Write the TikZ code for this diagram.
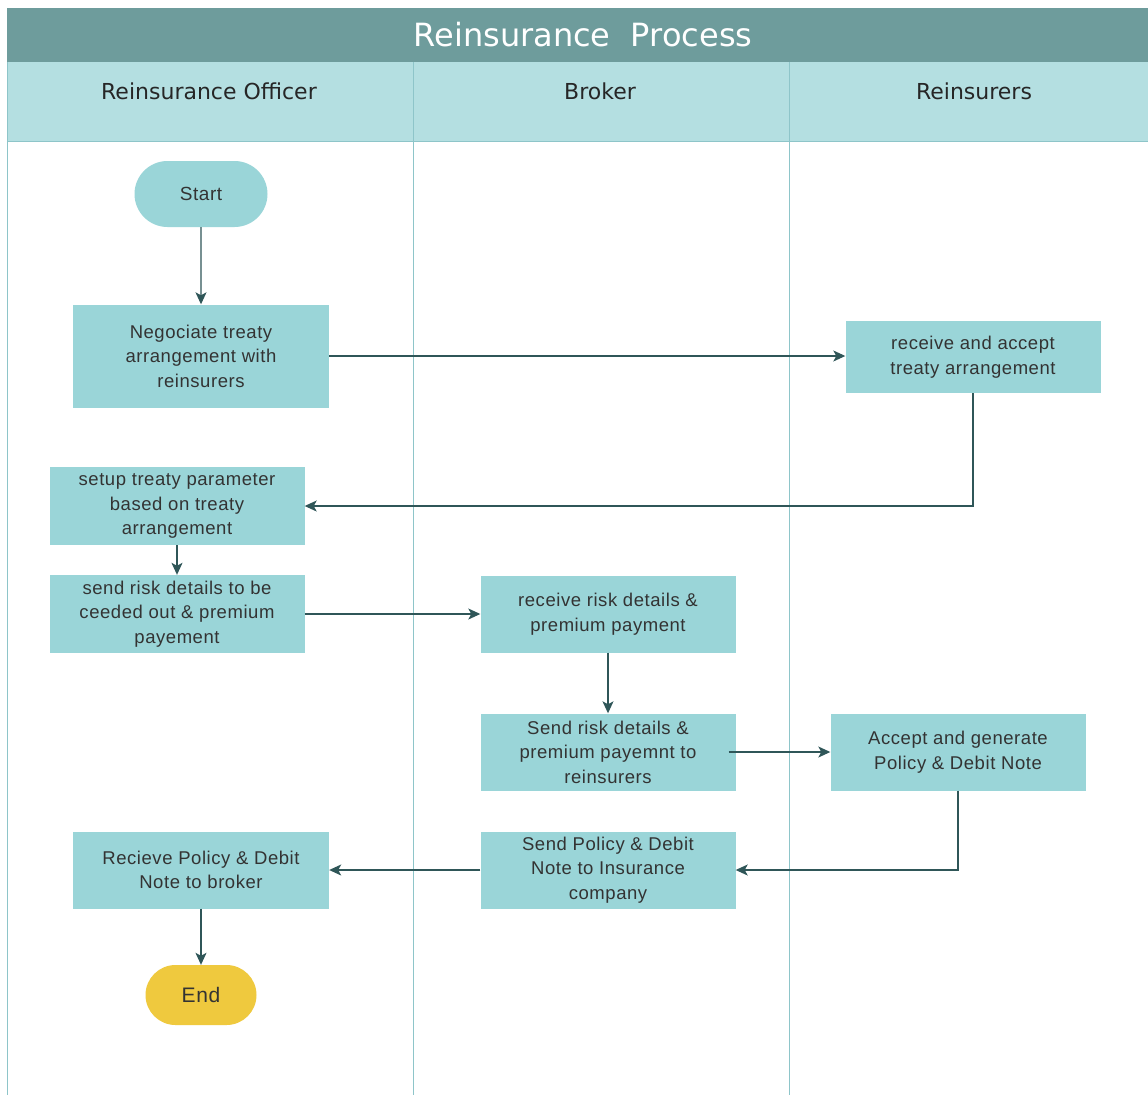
\documentclass[tikz,border=0pt]{standalone}
\usepackage{fontspec}
\setmainfont{Liberation Sans}[LetterSpace=3]
\newfontfamily\headfont{DejaVu Sans}
\usetikzlibrary{arrows.meta,shapes.misc}
\definecolor{titlebar}{HTML}{6E9C9C}
\definecolor{headrow}{HTML}{B4DFE1}
\definecolor{laneline}{HTML}{8EC5C9}
\definecolor{boxfill}{HTML}{9AD5D8}
\definecolor{endfill}{HTML}{EFC93E}
\definecolor{flow}{HTML}{2F5658}
\definecolor{txt}{HTML}{333333}
\tikzset{
  procbox/.style={draw=none, fill=boxfill, minimum width=256pt, inner sep=0pt,
    align=center, text=txt, font=\fontsize{18.5}{24.5}\selectfont},
  terminal/.style={rounded rectangle, draw=none, inner sep=0pt,
    text=txt, font=\fontsize{19}{24}\selectfont},
  flowline/.style={draw=flow, line width=1.2pt, -{Stealth[length=12pt,width=11pt,inset=3pt]}},
  lanehead/.style={text=black!85, font=\headfont\fontsize{22}{26}\selectfont},
}
\begin{document}
\begin{tikzpicture}[x=1pt,y=-1pt]
\useasboundingbox (0,0) rectangle (1148,1095);
\fill[white] (0,0) rectangle (1148,1095);
% title band and lane header row
\fill[titlebar] (7,8) rectangle (1148,62);
\fill[headrow] (7,62) rectangle (1148,141);
\node[text=white, font=\headfont\fontsize{32}{36}\selectfont] (title) at (583,35) {Reinsurance\ \ Process};
\node[lanehead] (h1) at (209,91) {Reinsurance Officer};
\node[lanehead] (h2) at (600,91) {Broker};
\node[lanehead] (h3) at (974,91) {Reinsurers};
% lane separators
\draw[laneline, line width=1pt] (7,141) -- (1148,141);
\draw[laneline, line width=1pt] (7,62) -- (7,1095);
\draw[laneline, line width=1pt] (413,62) -- (413,1095);
\draw[laneline, line width=1pt] (789,62) -- (789,1095);

% process steps
\node[terminal, fill=boxfill, minimum width=133pt, minimum height=66pt] (start) at (201,194) {Start};
\node[procbox, minimum height=103pt] (neg) at (201,356) {Negociate treaty\\arrangement with\\reinsurers};
\node[procbox, minimum width=255pt, minimum height=72pt] (racc) at (973,357) {receive and accept\\treaty arrangement};
\node[procbox, minimum width=255pt, minimum height=78pt] (setup) at (177,506) {setup treaty parameter\\based on treaty\\arrangement};
\node[procbox, minimum width=255pt, minimum height=78pt] (sendrisk) at (177,614) {send risk details to be\\ceeded out \& premium\\payement};
\node[procbox, minimum width=255pt, minimum height=77pt] (recrisk) at (608,614) {receive risk details \&\\premium payment};
\node[procbox, minimum width=255pt, minimum height=77pt] (fwdrisk) at (608,752) {Send risk details \&\\premium payemnt to\\reinsurers};
\node[procbox, minimum width=255pt, minimum height=77pt] (accept) at (958,752) {Accept and generate\\Policy \& Debit Note};
\node[procbox, minimum width=255pt, minimum height=77pt] (sendpol) at (608,870) {Send Policy \& Debit\\Note to Insurance\\company};
\node[procbox, minimum height=77pt] (recpol) at (201,870) {Recieve Policy \& Debit\\Note to broker};
\node[terminal, fill=endfill, minimum width=111pt, minimum height=60pt, font=\fontsize{21}{24}\selectfont] (end) at (201,995) {End};

% connectors
\draw[flowline] (start) -- (neg);
\draw[flowline] (neg.east) -- (racc.west |- neg.east);
\draw[flowline] (racc.south) |- (setup.east);
\draw[flowline] (setup) -- (sendrisk);
\draw[flowline] (sendrisk.east) -- (recrisk.west);
\draw[flowline] (recrisk) -- (fwdrisk);
\draw[flowline] ([xshift=-7pt]fwdrisk.east) -- (accept.west);
\draw[flowline] (accept.south) |- (sendpol.east);
\draw[flowline] (sendpol.west) -- (recpol.east);
\draw[flowline] (recpol) -- (end);
\end{tikzpicture}
\end{document}
